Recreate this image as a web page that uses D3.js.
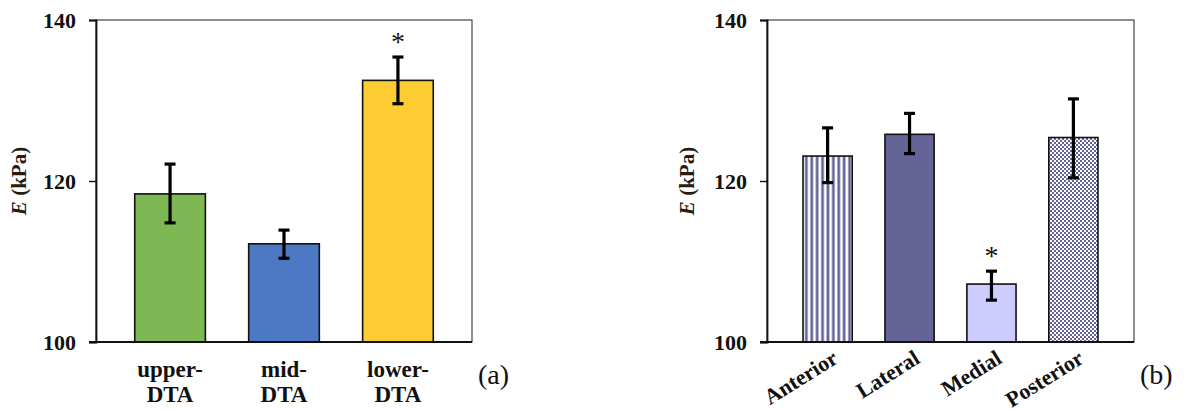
<!DOCTYPE html>
<html>
<head>
<meta charset="utf-8">
<script src="https://cdn.jsdelivr.net/npm/d3@7"></script>
</head>
<body style="margin:0">
<svg id="chart" width="1195" height="411"></svg>
<script>
// panel (a) data
var regionNames = ['upper-|DTA', 'mid-|DTA', 'lower-|DTA'];
var regionMeans = [118.4, 112.2, 132.5];
var regionErrLow = [114.8, 110.4, 129.6];
var regionErrHigh = [122.1, 113.9, 135.4];
var regionColors = ['#7eb854', '#4d78c4', '#fdcc33'];
var regionStars = [false, false, true];

// panel (b) data
var quadrantNames = ['Anterior', 'Lateral', 'Medial', 'Posterior'];
var quadrantMeans = [123.1, 125.8, 107.2, 125.4];
var quadrantErrLow = [119.8, 123.4, 105.2, 120.4];
var quadrantErrHigh = [126.6, 128.4, 108.8, 130.2];
var quadrantFills = ['url(#stripes)', '#646496', '#ccccff', 'url(#checks)'];
var quadrantStars = [false, false, true, false];

var yTicks = [100, 120, 140];

var SERIF = 'Liberation Serif';

var svg = d3.select('#chart');

// patterns
var defs = svg.append('defs');
var stripes = defs.append('pattern')
    .attr('id', 'stripes')
    .attr('patternUnits', 'userSpaceOnUse')
    .attr('width', 5.4)
    .attr('height', 10);
stripes.append('rect').attr('width', 5.4).attr('height', 10).attr('fill', '#fff');
stripes.append('rect').attr('x', 0.4).attr('width', 2.7).attr('height', 10).attr('fill', '#646496');

var checks = defs.append('pattern')
    .attr('id', 'checks')
    .attr('patternUnits', 'userSpaceOnUse')
    .attr('width', 4)
    .attr('height', 4);
checks.append('rect').attr('width', 4).attr('height', 4).attr('fill', '#fff');
checks.append('rect').attr('width', 2).attr('height', 2).attr('fill', '#646496');
checks.append('rect').attr('x', 2).attr('y', 2).attr('width', 2).attr('height', 2).attr('fill', '#646496');

function addText(parent, size, weight) {
    return parent.append('text')
        .attr('font-family', SERIF)
        .style('font-family', '"' + SERIF + '"')
        .attr('font-size', size)
        .attr('font-weight', weight)
        .attr('fill', '#111');
}

function drawPanel(opts) {
    var left = opts.left, right = opts.right, top = 20, bottom = 342;

    var y = d3.scaleLinear().domain([100, 140]).range([bottom, top]);
    var x = d3.scaleBand()
        .domain(opts.names)
        .range([left, right])
        .paddingInner(opts.padInner)
        .paddingOuter(opts.padOuter);

    var g = svg.append('g');

    // frame (top/right)
    g.append('rect')
        .attr('x', left).attr('y', top)
        .attr('width', right - left).attr('height', bottom - top)
        .attr('fill', 'none')
        .attr('stroke', '#444')
        .attr('stroke-width', 1.2);

    // bars
    g.selectAll('.bar')
        .data(opts.means).enter()
        .append('rect')
        .attr('class', 'bar')
        .attr('x', function(d, i) { return x(opts.names[i]); })
        .attr('y', function(d) { return y(d); })
        .attr('width', x.bandwidth())
        .attr('height', function(d) { return bottom - y(d); })
        .attr('fill', function(d, i) { return opts.fills[i]; })
        .attr('stroke', '#111')
        .attr('stroke-width', 1.6);

    // error bars
    var capW = 11;
    opts.means.forEach(function(d, i) {
        var cx = x(opts.names[i]) + x.bandwidth() / 2;
        var lo = y(opts.errLow[i]), hi = y(opts.errHigh[i]);
        g.append('line').attr('x1', cx).attr('x2', cx).attr('y1', lo).attr('y2', hi)
            .attr('stroke', '#000').attr('stroke-width', 3.2);
        [lo, hi].forEach(function(yy) {
            g.append('line').attr('x1', cx - capW / 2).attr('x2', cx + capW / 2)
                .attr('y1', yy).attr('y2', yy)
                .attr('stroke', '#000').attr('stroke-width', 3.2);
        });
        if (opts.stars[i]) {
            addText(g, 28, 'normal')
                .attr('x', cx).attr('y', hi - 6)
                .attr('text-anchor', 'middle')
                .text('*');
        }
    });

    // y axis: ticks from d3, labels drawn in serif
    var yAxis = d3.axisLeft(y).tickValues(yTicks).tickSize(7).tickFormat('');
    var ya = g.append('g').attr('transform', 'translate(' + left + ',0)').call(yAxis);
    ya.select('.domain').attr('stroke', '#111').attr('stroke-width', 1.8);
    ya.selectAll('.tick line').attr('stroke', '#111').attr('stroke-width', 1.4);
    yTicks.forEach(function(t) {
        addText(g, 22, 'bold')
            .attr('x', left - 20).attr('y', y(t))
            .attr('dy', '0.35em')
            .attr('text-anchor', 'end')
            .text(t);
    });

    // bottom axis line
    g.append('line')
        .attr('x1', left - 7).attr('x2', right)
        .attr('y1', bottom).attr('y2', bottom)
        .attr('stroke', '#111').attr('stroke-width', 1.8);

    // y label
    var yl = addText(g, 21, 'bold')
        .attr('transform', 'translate(' + opts.yLabelX + ',' + y(120) + ') rotate(-90)')
        .attr('text-anchor', 'middle')
        .attr('fill', '#2a1a10');
    yl.append('tspan').attr('font-style', 'italic').text('E');
    yl.append('tspan').text(' (kPa)');

    // x labels
    if (opts.rotate) {
        opts.names.forEach(function(name, i) {
            var cx = x(name) + x.bandwidth() / 2;
            addText(g, 22, 'bold')
                .attr('transform', 'translate(' + (cx + 3) + ',' + (bottom + 6) + ') rotate(-32)')
                .attr('text-anchor', 'end')
                .attr('dy', '0.75em')
                .text(name);
        });
    } else {
        opts.names.forEach(function(name, i) {
            var cx = x(name) + x.bandwidth() / 2;
            var parts = name.split('|');
            var t = addText(g, 23, 'bold').attr('text-anchor', 'middle');
            parts.forEach(function(p, k) {
                t.append('tspan').attr('x', cx).attr('y', 377 + k * 25).text(p);
            });
        });
    }

    // panel letter
    addText(g, 28, 'normal')
        .attr('x', opts.letterX).attr('y', 384)
        .text(opts.letter);
}

drawPanel({
    left: 96, right: 472,
    names: regionNames, means: regionMeans,
    errLow: regionErrLow, errHigh: regionErrHigh,
    fills: regionColors, stars: regionStars,
    padInner: 0.38, padOuter: 0.34,
    yLabelX: 26, rotate: false,
    letter: '(a)', letterX: 478
});

drawPanel({
    left: 767, right: 1134,
    names: quadrantNames, means: quadrantMeans,
    errLow: quadrantErrLow, errHigh: quadrantErrHigh,
    fills: quadrantFills, stars: quadrantStars,
    padInner: 0.40, padOuter: 0.44,
    yLabelX: 694, rotate: true,
    letter: '(b)', letterX: 1140
});
</script>
</body>
</html>
